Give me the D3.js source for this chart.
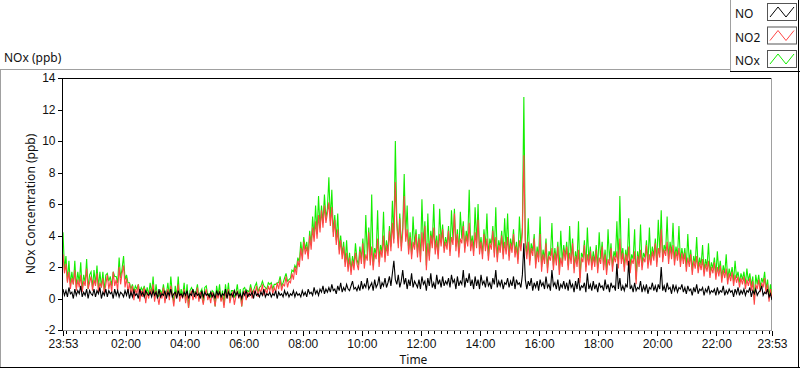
<!DOCTYPE html>
<html>
<head>
<meta charset="utf-8">
<script src="https://cdn.jsdelivr.net/npm/d3@7"></script>
<style>
  body { margin: 0; background: #fff; }
  svg { display: block; font-family: "Noto Sans", "Open Sans", sans-serif; }
  .tick text { font-size: 12px; fill: #111; }
</style>
</head>
<body>
<div id="chart"></div>
<script>
// one sample every 3 minutes, 23:53 -> 23:53 next day (20 per row = 1 hour)
var sampleMinutes = 3;
var seriesNames = ["NO", "NO2", "NOx"];
var yTicks = [-2, 0, 2, 4, 6, 8, 10, 12, 14];

var noValues = [
  0.6, 0.2, 0.5, 0.1, 0.7, 0.3, 0.4, 0.0, 0.6, 0.2, 0.5, 0.3, 0.8, 0.1, 0.4, 0.2, 0.6, 0.0, 0.5, 0.3,
  0.2, 0.6, 0.1, 0.5, 0.3, 0.7, 0.0, 0.4, 0.2, 0.6, 0.1, 0.5, 0.3, 0.4, 0.0, 0.6, 0.2, 0.5, 0.1, 0.4,
  0.3, 0.1, 0.5, 0.2, 0.6, 0.0, 0.4, 0.1, 0.5, 0.2, 0.3, 0.0, 0.6, 0.2, 0.4, 0.1, 0.5, 0.3, 0.2, 0.4,
  0.1, 0.5, 0.2, 0.4, 0.0, 0.6, 0.1, 0.3, 0.2, 0.5, 0.0, 0.4, 0.2, 0.6, 0.1, 0.3, 0.4, 0.0, 0.5, 0.2,
  0.3, 0.1, 0.4, 0.2, 0.5, 0.0, 0.3, 0.2, 0.6, 0.1, 0.4, 0.2, 0.3, 0.0, 0.5, 0.1, 0.4, 0.2, 0.3, 0.1,
  0.4, 0.1, 0.3, 0.0, 0.5, 0.2, 0.4, 0.1, 0.3, 0.2, 0.6, 0.0, 0.4, 0.2, 0.3, 0.1, 0.5, 0.2, 0.4, 0.1,
  0.3, 0.0, 0.4, 0.2, 0.5, 0.1, 0.3, 0.2, 0.4, 0.0, 0.5, 0.2, 0.3, 0.1, 0.4, 0.2, 0.6, 0.1, 0.3, 0.2,
  0.4, 0.1, 0.3, 0.2, 0.5, 0.0, 0.4, 0.2, 0.3, 0.1, 0.5, 0.2, 0.4, 0.1, 0.3, 0.2, 0.5, 0.1, 0.4, 0.2,
  0.3, 0.1, 0.5, 0.2, 0.4, 0.1, 0.6, 0.3, 0.4, 0.2, 0.7, 0.3, 0.5, 0.2, 0.6, 0.4, 0.8, 0.3, 0.6, 0.4,
  0.7, 0.4, 0.9, 0.5, 0.6, 0.3, 0.8, 0.5, 1.0, 0.4, 0.7, 0.5, 0.9, 0.6, 0.5, 0.8, 1.1, 0.6, 0.7, 0.5,
  0.8, 0.5, 1.1, 0.6, 0.9, 0.7, 1.3, 0.6, 0.8, 1.0, 0.5, 1.2, 0.7, 0.9, 1.4, 0.6, 1.0, 0.8, 1.3, 0.7,
  1.0, 1.4, 0.8, 1.6, 2.4, 1.2, 0.9, 1.5, 0.7, 1.1, 1.8, 0.9, 1.3, 0.6, 1.2, 0.8, 1.6, 0.7, 1.1, 0.9,
  0.7, 1.2, 0.6, 1.4, 0.9, 1.1, 0.5, 1.3, 0.8, 1.6, 0.7, 1.0, 0.6, 1.5, 0.9, 1.2, 0.7, 1.4, 0.8, 1.1,
  0.9, 1.3, 0.7, 1.5, 1.0, 1.2, 0.6, 1.4, 0.8, 1.1, 0.9, 1.8, 0.7, 1.3, 1.0, 1.6, 0.8, 1.2, 0.6, 1.4,
  0.8, 1.2, 0.6, 1.5, 0.9, 1.1, 0.7, 1.4, 0.8, 1.0, 0.6, 1.3, 0.9, 1.8, 0.7, 1.1, 0.8, 1.2, 0.6, 1.0,
  0.9, 1.3, 0.7, 1.1, 0.8, 1.4, 0.6, 1.2, 0.9, 1.0, 0.7, 1.5, 3.5, 1.2, 0.6, 1.1, 0.8, 1.3, 0.5, 1.0,
  0.7, 1.1, 0.5, 1.2, 0.8, 1.0, 0.6, 1.4, 0.7, 0.9, 0.5, 1.8, 0.8, 1.0, 0.6, 1.2, 0.5, 0.9, 0.7, 1.1,
  0.6, 1.0, 0.5, 1.2, 0.7, 0.9, 0.4, 1.1, 0.6, 1.3, 0.5, 0.8, 0.7, 1.0, 0.4, 1.6, 0.6, 0.9, 0.5, 1.1,
  0.6, 0.9, 0.4, 1.0, 0.7, 0.8, 0.5, 1.2, 0.6, 0.9, 0.4, 1.0, 0.7, 0.8, 0.5, 2.2, 0.6, 1.3, 0.5, 0.8,
  0.5, 0.9, 0.7, 2.4, 0.6, 0.8, 0.4, 1.0, 0.5, 0.7, 0.6, 1.1, 0.4, 0.8, 0.5, 0.9, 0.3, 0.7, 0.6, 1.0,
  0.5, 0.8, 0.4, 0.9, 0.6, 2.0, 0.5, 0.8, 0.4, 1.0, 0.6, 0.7, 0.3, 0.9, 0.5, 0.8, 0.4, 0.7, 0.6, 0.9,
  0.4, 0.7, 0.3, 0.8, 0.5, 0.6, 0.2, 0.7, 0.4, 0.9, 0.3, 0.6, 0.5, 0.7, 0.2, 0.6, 0.4, 0.8, 0.3, 0.5,
  0.4, 0.6, 0.2, 0.7, 0.3, 0.5, 0.4, 0.8, 0.2, 0.5, 0.3, 0.6, 0.4, 0.5, 0.1, 0.6, 0.3, 0.7, 0.2, 0.5,
  0.3, 0.6, 0.2, 0.5, 0.4, 0.7, 0.1, 0.5, 0.3, 0.6, 0.2, 0.4, 0.5, 0.8, 0.2, 0.4, 0.3, 0.6, 0.1, 0.3,
  -0.1
];

var no2Values = [
  2.8, 1.6, 2.2, 1.0, 1.7, 0.6, 1.3, 0.9, 1.8, 0.5, 1.2, 0.7, 1.5, 0.4, 1.1, 0.8, 1.9, 0.6, 1.0, 1.4,
  0.5, 1.2, 0.8, 1.6, 0.4, 1.0, 0.7, 1.3, 0.3, 0.9, 1.5, 0.6, 1.1, 0.4, 1.7, 0.8, 1.2, 0.5, 2.0, 0.9,
  1.6, 2.1, 0.7, 1.3, 0.4, 1.0, 0.2, 0.8, -0.1, 0.6, 0.3, 0.9, -0.2, 0.5, 0.1, 0.7, -0.3, 0.4, 0.0, 0.6,
  0.2, 0.9, -0.2, 0.5, 0.1, -0.4, 0.4, 0.0, 0.7, -0.3, 0.3, 0.6, -0.1, 0.8, 0.2, -0.5, 0.4, 0.1, 0.9, -0.2,
  0.3, 0.0, 0.6, -0.3, 0.4, -0.6, 0.2, 0.5, -0.1, 0.3, 0.0, 0.7, -0.2, 0.4, 0.1, -0.4, 0.3, 0.6, -0.1, 0.2,
  -0.3, 0.4, 0.1, -0.5, 0.3, 0.0, 0.5, -0.2, 0.2, -0.6, 0.3, 0.1, 0.6, -0.3, 0.2, 0.4, -0.4, 0.1, 0.5, 0.0,
  0.3, -0.5, 0.2, 0.5, -0.1, 0.4, 0.1, 0.7, 0.0, 0.5, 0.3, 0.8, 0.1, 0.6, 0.4, 0.9, 0.2, 0.6, 0.3, 0.8,
  0.5, 0.9, 0.3, 0.7, 0.4, 1.0, 0.6, 1.2, 0.5, 0.9, 0.8, 1.4, 0.7, 1.1, 1.0, 1.6, 1.2, 2.0, 1.5, 2.4,
  2.0, 3.2, 2.4, 3.6, 2.8, 3.3, 2.5, 4.0, 3.1, 4.5, 3.6, 4.9, 3.8, 5.3, 4.2, 5.6, 4.5, 5.9, 4.8, 5.4,
  6.1, 4.6, 5.8, 3.9, 5.0, 3.4, 4.4, 2.8, 3.7, 2.5, 3.3, 2.0, 2.9, 1.7, 2.6, 1.5, 2.4, 1.8, 2.9, 2.2,
  1.8, 3.0, 2.2, 3.5, 1.9, 2.8, 2.4, 4.2, 2.1, 3.3, 1.8, 2.9, 2.5, 3.8, 2.0, 3.1, 2.6, 4.0, 2.3, 3.4,
  2.7, 4.3, 3.0, 4.8, 3.5, 7.4, 4.6, 3.2, 5.1, 3.0, 4.2, 6.5, 3.6, 4.4, 2.8, 3.9, 2.5, 3.6, 3.1, 4.1,
  2.6, 3.8, 2.3, 4.2, 3.0, 4.6, 1.8, 3.5, 2.4, 4.0, 3.2, 4.5, 2.8, 3.7, 2.5, 4.1, 3.3, 4.4, 2.9, 3.6,
  3.1, 4.3, 2.7, 3.9, 3.4, 5.4, 3.0, 4.1, 2.6, 3.8, 3.5, 4.6, 2.9, 4.0, 3.3, 4.8, 3.0, 3.7, 2.7, 4.2,
  3.2, 5.0, 2.8, 3.6, 2.5, 4.1, 3.0, 3.8, 2.4, 3.5, 3.1, 4.3, 2.6, 3.9, 2.3, 3.4, 2.9, 4.0, 2.5, 3.6,
  2.8, 3.9, 2.4, 3.5, 2.9, 4.1, 2.6, 3.3, 2.2, 3.7, 3.0, 4.2, 9.1, 3.4, 2.5, 3.6, 2.1, 3.2, 2.7, 3.8,
  1.9, 3.0, 2.3, 4.1, 1.7, 2.8, 2.2, 3.5, 1.6, 2.7, 2.4, 3.2, 1.8, 2.9, 2.1, 3.3, 1.5, 2.6, 2.0, 3.1,
  2.4, 3.3, 1.8, 2.9, 2.2, 3.5, 1.6, 2.7, 2.0, 3.1, 1.0, 2.6, 2.3, 3.4, 1.7, 2.8, 2.1, 3.0, 1.8, 2.7,
  2.0, 3.1, 1.6, 2.6, 2.2, 3.3, 1.8, 2.8, 1.5, 2.5, 2.1, 3.2, 1.7, 2.7, 2.3, 3.0, 1.9, 3.8, 2.2, 2.9,
  1.7, 2.8, 2.1, 3.3, 1.6, 2.5, 2.2, 3.0, 0.9, 2.7, 2.0, 3.1, 1.8, 2.6, 2.3, 3.4, 1.9, 2.8, 2.1, 3.0,
  2.4, 3.5, 2.0, 3.2, 2.6, 4.4, 2.3, 3.1, 2.7, 3.6, 2.2, 3.3, 2.5, 3.4, 2.1, 3.0, 2.4, 3.2, 2.0, 2.9,
  2.2, 2.9, 1.7, 2.6, 2.0, 2.8, 1.5, 2.4, 1.9, 2.7, 1.6, 2.3, 1.8, 2.5, 1.4, 2.2, 1.7, 2.4, 1.3, 2.0,
  1.6, 2.3, 1.2, 2.0, 1.4, 2.1, 1.0, 1.8, 1.3, 1.9, 0.9, 1.6, 1.1, 1.7, 0.8, 1.5, 1.0, 1.4, 0.7, 1.3,
  0.9, 1.4, 0.6, 1.2, 0.8, 1.3, 0.5, 1.1, -0.4, 0.9, 0.6, 1.2, 0.4, 1.0, 0.7, 1.3, 0.3, 0.9, -0.2, 0.6,
  0.0
];

var noxValues = [
  4.2, 1.8, 2.7, 1.1, 2.4, 0.9, 1.7, 0.9, 2.4, 0.7, 1.7, 1.0, 2.3, 0.5, 1.5, 1.0, 2.5, 0.6, 1.5, 1.7,
  0.7, 1.8, 0.9, 2.1, 0.7, 1.7, 0.7, 1.7, 0.5, 1.5, 1.6, 1.1, 1.4, 0.8, 1.7, 1.4, 1.4, 1.0, 2.6, 1.3,
  1.9, 2.7, 1.2, 1.5, 1.0, 1.0, 0.6, 0.9, 0.4, 0.8, 0.6, 0.9, 0.4, 0.7, 0.5, 0.8, 0.2, 0.7, 0.2, 1.0,
  0.3, 1.4, 0.0, 0.9, 0.1, 0.2, 0.5, 0.3, 0.9, 0.2, 0.3, 1.0, 0.1, 1.4, 0.3, -0.2, 0.8, 0.1, 1.4, 0.0,
  0.6, 0.1, 1.0, -0.1, 0.9, -0.6, 0.5, 0.7, 0.5, 0.4, 0.4, 0.9, 0.1, 0.4, 0.6, -0.3, 0.7, 0.8, 0.2, 0.3,
  0.1, 0.5, 0.4, -0.5, 0.8, 0.2, 0.9, -0.1, 0.5, -0.4, 0.9, 0.1, 1.0, -0.1, 0.5, 0.5, 0.1, 0.3, 0.9, 0.1,
  0.6, -0.5, 0.6, 0.7, 0.4, 0.5, 0.4, 0.9, 0.4, 0.5, 0.8, 1.0, 0.4, 0.7, 0.8, 1.1, 0.8, 0.7, 0.6, 1.0,
  0.9, 1.0, 0.6, 0.9, 0.9, 1.0, 1.0, 1.4, 0.8, 1.0, 1.3, 1.6, 1.1, 1.2, 1.3, 1.8, 1.7, 2.1, 1.9, 2.6,
  2.3, 3.6, 2.7, 3.9, 3.1, 3.6, 2.8, 4.3, 3.4, 5.2, 3.9, 5.9, 4.1, 6.5, 4.5, 5.9, 4.8, 6.6, 5.1, 5.7,
  7.7, 4.9, 6.9, 4.2, 5.3, 3.7, 5.4, 3.1, 4.0, 2.8, 3.6, 2.3, 3.7, 2.0, 2.9, 1.8, 2.7, 2.1, 3.5, 2.5,
  2.1, 3.3, 2.5, 3.8, 2.2, 5.3, 2.7, 4.5, 2.4, 6.6, 2.1, 3.2, 2.8, 5.6, 2.3, 3.4, 2.9, 5.5, 2.6, 3.7,
  3.0, 4.6, 3.3, 6.2, 3.8, 10.0, 5.0, 3.5, 5.4, 3.3, 4.5, 7.9, 3.9, 5.9, 3.1, 4.2, 2.8, 5.2, 3.4, 4.4,
  2.9, 4.1, 2.6, 6.3, 3.3, 4.9, 2.1, 5.4, 2.7, 4.3, 3.5, 6.0, 3.1, 4.0, 2.8, 5.7, 3.6, 4.7, 3.2, 3.9,
  3.4, 4.6, 3.0, 5.6, 3.7, 5.7, 3.3, 4.4, 2.9, 5.5, 3.8, 4.9, 3.2, 4.3, 3.6, 6.9, 3.3, 4.0, 3.0, 5.8,
  3.5, 6.0, 3.1, 3.9, 2.8, 4.4, 3.3, 5.4, 2.7, 3.8, 3.4, 4.6, 2.9, 5.8, 2.6, 3.7, 3.2, 4.3, 2.8, 5.1,
  3.1, 5.4, 2.7, 3.8, 3.2, 4.4, 2.9, 3.6, 2.5, 5.2, 3.3, 4.5, 12.8, 3.7, 2.8, 5.1, 2.4, 3.5, 3.0, 4.1,
  2.2, 3.3, 2.6, 5.2, 2.0, 3.1, 2.5, 3.8, 1.9, 3.0, 2.7, 4.8, 2.1, 3.2, 2.4, 3.6, 1.8, 4.3, 2.3, 3.4,
  2.7, 3.6, 2.1, 4.6, 2.5, 3.8, 1.9, 3.0, 2.3, 4.9, 1.3, 2.9, 2.6, 3.7, 2.0, 4.5, 2.4, 3.3, 2.1, 3.0,
  2.3, 3.4, 1.9, 4.2, 2.5, 3.6, 2.1, 3.1, 1.8, 4.4, 2.4, 3.5, 2.0, 3.0, 2.6, 4.9, 2.2, 6.5, 2.5, 3.2,
  2.0, 3.1, 2.4, 5.1, 1.9, 2.8, 2.5, 4.4, 1.2, 3.0, 2.3, 4.7, 2.1, 2.9, 2.6, 3.7, 2.2, 4.5, 2.4, 3.3,
  2.7, 3.8, 2.3, 5.0, 2.9, 5.6, 2.6, 3.4, 3.0, 5.2, 2.5, 3.6, 2.8, 4.8, 2.4, 3.3, 2.7, 4.6, 2.3, 3.2,
  2.5, 3.2, 2.0, 4.1, 2.3, 3.1, 1.8, 2.7, 2.2, 3.9, 1.9, 2.6, 2.1, 3.4, 1.7, 2.5, 2.0, 3.5, 1.6, 2.3,
  1.9, 2.6, 1.5, 3.0, 1.7, 2.4, 1.3, 2.1, 1.6, 2.8, 1.2, 1.9, 1.4, 2.0, 1.1, 2.4, 1.3, 1.7, 1.0, 1.6,
  1.2, 1.7, 0.9, 1.9, 1.1, 1.6, 0.8, 1.4, -0.1, 1.5, 0.9, 1.5, 0.7, 1.3, 1.0, 1.7, 0.6, 1.2, 0.1, 0.9,
  0.0
];

var colors = {
  'NO': '#000000',
  'NO2': '#ff4646',
  'NOx': '#14ee00'
};

var width = 800, height = 369;
var plot = { left: 63, right: 772, top: 78, bottom: 330 };

var start = new Date(2013, 0, 1, 23, 53);
var end = new Date(2013, 0, 2, 23, 53);
var times = noValues.map(function(d, i) { return new Date(+start + i * sampleMinutes * 60000); });

var svg = d3.select("#chart").append("svg")
  .attr("width", width)
  .attr("height", height);

var x = d3.scaleTime().domain([start, end]).range([plot.left, plot.right]);
var y = d3.scaleLinear().domain([-2, 14]).range([plot.bottom, plot.top]);

// outer panel (sunken look)
svg.append("line").attr("x1", 0).attr("x2", 730).attr("y1", 69.5).attr("y2", 69.5).attr("stroke", "#a0a0a0");
svg.append("line").attr("x1", 0.5).attr("x2", 0.5).attr("y1", 69).attr("y2", 368).attr("stroke", "#a0a0a0");
svg.append("line").attr("x1", 0).attr("x2", 800).attr("y1", 367.5).attr("y2", 367.5).attr("stroke", "#000");
svg.append("line").attr("x1", 798.5).attr("x2", 798.5).attr("y1", 0).attr("y2", 368).attr("stroke", "#000");

// title
svg.append("text").attr("x", 4).attr("y", 62)
  .style("font-size", "12px").style("fill", "#111")
  .text("NOx (ppb)");

// plot frame
svg.append("line").attr("x1", plot.left).attr("x2", plot.right).attr("y1", plot.top + 0.5).attr("y2", plot.top + 0.5).attr("stroke", "#000");
svg.append("line").attr("x1", plot.right - 0.5).attr("x2", plot.right - 0.5).attr("y1", plot.top).attr("y2", plot.bottom).attr("stroke", "#a0a0a0");
svg.append("line").attr("x1", plot.left).attr("x2", plot.right).attr("y1", plot.bottom + 0.5).attr("y2", plot.bottom + 0.5).attr("stroke", "#a0a0a0");

svg.append("clipPath").attr("id", "clip")
  .append("rect")
  .attr("x", plot.left).attr("y", plot.top)
  .attr("width", plot.right - plot.left).attr("height", plot.bottom - plot.top);

var line = d3.line()
  .x(function(d, i) { return x(times[i]); })
  .y(function(d) { return y(d); });

// NOx underneath, then NO2, NO on top
var plotG = svg.append("g").attr("clip-path", "url(#clip)");
[["NOx", noxValues], ["NO2", no2Values], ["NO", noValues]].forEach(function(s) {
  plotG.append("path")
    .datum(s[1])
    .attr("fill", "none")
    .attr("stroke", colors[s[0]])
    .attr("stroke-width", 1.1)
    .attr("d", line);
});

// y axis
var yAxis = svg.append("g")
  .attr("transform", "translate(" + (plot.left - 0.5) + ",0)")
  .call(d3.axisLeft(y).tickValues(yTicks).tickSize(5).tickPadding(2)
    .tickFormat(function(d) { return String(d); }));
yAxis.select(".domain").attr("d", "M0," + plot.top + "V" + (plot.bottom + 1)).attr("stroke", "#000");
yAxis.selectAll(".tick line").attr("stroke", "#000");

// x axis: majors every 2 hours plus the two ends, minors every 800 s
var majors = [start].concat(d3.timeHour.every(2).range(new Date(2013, 0, 2, 2, 0), end), [end]);
var minors = d3.range(+new Date(2013, 0, 2, 0, 0) - 9 * 800000, +end, 800000)
  .filter(function(t) { return t > +start; })
  .map(function(t) { return new Date(t); });
var fmt = d3.timeFormat("%H:%M");

var xMinor = svg.append("g")
  .attr("transform", "translate(0," + (plot.bottom + 1) + ")")
  .call(d3.axisBottom(x).tickValues(minors).tickSize(3).tickFormat(""));
xMinor.select(".domain").remove();

var xAxis = svg.append("g")
  .attr("transform", "translate(0," + (plot.bottom + 1) + ")")
  .call(d3.axisBottom(x).tickValues(majors).tickSize(5).tickPadding(3).tickFormat(fmt));
xAxis.select(".domain").remove();
svg.selectAll(".tick line").attr("stroke", "#000").attr("shape-rendering", "crispEdges");

svg.append("text")
  .attr("x", (plot.left + plot.right) / 2 - 4).attr("y", 364)
  .attr("text-anchor", "middle")
  .style("font-size", "12px").style("fill", "#111")
  .text("Time");

svg.append("text")
  .attr("transform", "translate(35," + ((plot.top + plot.bottom) / 2) + ") rotate(-90)")
  .attr("text-anchor", "middle")
  .style("font-size", "12px").style("fill", "#111")
  .text("NOx Concentration (ppb)");

// legend
var legend = svg.append("g");
legend.append("rect").attr("x", 730).attr("y", 0).attr("width", 70).attr("height", 72).attr("fill", "#fff");
legend.append("line").attr("x1", 730.5).attr("x2", 730.5).attr("y1", 0).attr("y2", 72).attr("stroke", "#a0a0a0");
legend.append("line").attr("x1", 730).attr("x2", 800).attr("y1", 71.5).attr("y2", 71.5).attr("stroke", "#000");
legend.append("line").attr("x1", 798.5).attr("x2", 798.5).attr("y1", 0).attr("y2", 72).attr("stroke", "#000");

seriesNames.forEach(function(name, i) {
  var top = 3 + i * 23.5;
  legend.append("text").attr("x", 735).attr("y", top + 15)
    .style("font-size", "12px").style("fill", "#111")
    .text(name);
  legend.append("rect")
    .attr("x", 767.5).attr("y", top + 0.5).attr("width", 29).attr("height", 17)
    .attr("fill", "#fff").attr("stroke", "#555");
  legend.append("polyline")
    .attr("points", [[770, top + 14], [778, top + 4], [786, top + 14], [794, top + 4]].join(" "))
    .attr("fill", "none").attr("stroke", colors[name]).attr("stroke-width", 1);
});
</script>
</body>
</html>
